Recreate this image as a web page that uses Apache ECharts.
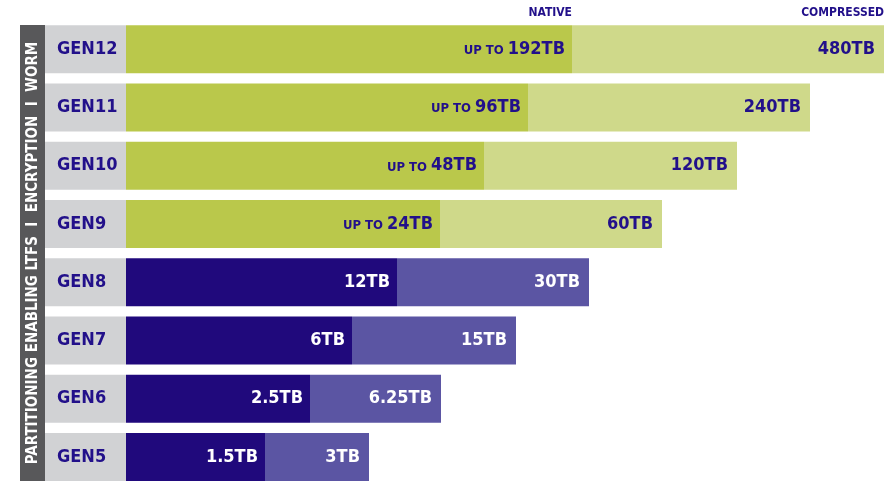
<!DOCTYPE html>
<html>
<head>
<meta charset="utf-8">
<script src="https://cdn.jsdelivr.net/npm/echarts@6/dist/echarts.min.js"></script>
<style>
  html, body { margin: 0; padding: 0; background: #fff; }
  #chart { width: 888px; height: 481px; }
</style>
</head>
<body>
<div id="chart"></div>
<script>
// bottom to top
const generations = ["GEN5", "GEN6", "GEN7", "GEN8", "GEN9", "GEN10", "GEN11", "GEN12"];
const nativeText = ["1.5TB", "2.5TB", "6TB", "12TB", "24TB", "48TB", "96TB", "192TB"];
const compressedText = ["3TB", "6.25TB", "15TB", "30TB", "60TB", "120TB", "240TB", "480TB"];
const upTo = [false, false, false, false, true, true, true, true];
// schematic bar lengths as drawn (not proportional to TB)
const nativeBar = [139, 184, 226, 271, 314, 358, 402, 446];
const compressedBar = [243, 315, 390, 463, 536, 611, 684, 758];

const FONT = '"Liberation Sans Narrow", "DejaVu Sans Condensed", "Roboto Condensed", sans-serif';
const NAVY = "#22108a";

const chart = echarts.init(document.getElementById("chart"));

const extra = compressedBar.map((v, i) => v - nativeBar[i]);

chart.setOption({
  animation: false,
  grid: { left: 126, right: 4, top: 20, bottom: -5, outerBoundsMode: "none" },
  xAxis: { type: "value", min: 0, max: 758, show: false },
  yAxis: {
    type: "category",
    data: generations,
    axisLine: { show: false },
    axisTick: { show: false },
    axisLabel: {
      margin: 81,
      align: "left",
      verticalAlign: "middle",
      width: 69,
      height: 48,
      lineHeight: 48,
      padding: [0, 0, 0, 12],
      backgroundColor: "#d1d2d4",
      color: NAVY,
      fontFamily: FONT,
      fontWeight: "bold",
      fontSize: 18
    }
  },
  graphic: [
    { type: "rect", shape: { x: 20, y: 25, width: 25, height: 456 }, style: { fill: "#58585a" } },
    {
      type: "text", x: 33, y: 253, rotation: Math.PI / 2,
      style: {
        text: "PARTITIONING ENABLING LTFS  I  ENCRYPTION  I  WORM",
        align: "center", verticalAlign: "middle", fill: "#fff",
        font: "bold 15px " + FONT
      }
    },
    { type: "text", x: 572, y: 13, style: { text: "NATIVE", align: "right", verticalAlign: "middle", fill: NAVY, font: "bold 12px " + FONT } },
    { type: "text", x: 884, y: 13, style: { text: "COMPRESSED", align: "right", verticalAlign: "middle", fill: NAVY, font: "bold 12px " + FONT } }
  ],
  series: [
    {
      name: "Native",
      type: "bar",
      stack: "cap",
      barWidth: 48,
      data: nativeBar.map((v, i) => ({
        value: v,
        itemStyle: { color: i >= 4 ? "#bac84b" : "#20097c" },
        label: { color: i >= 4 ? NAVY : "#fff" }
      })),
      label: {
        show: true,
        position: "insideRight",
        distance: 7,
        fontFamily: FONT,
        fontWeight: "bold",
        formatter: (p) => upTo[p.dataIndex]
          ? "{s|UP TO }{b|" + nativeText[p.dataIndex] + "}"
          : "{b|" + nativeText[p.dataIndex] + "}",
        rich: {
          s: { fontSize: 13, fontFamily: FONT, fontWeight: "bold", padding: [3, 0, 0, 0] },
          b: { fontSize: 18, fontFamily: FONT, fontWeight: "bold" }
        }
      }
    },
    {
      name: "Compressed",
      type: "bar",
      stack: "cap",
      barWidth: 48,
      data: extra.map((v, i) => ({
        value: v,
        itemStyle: { color: i >= 4 ? "#cfd98a" : "#5b55a3" },
        label: { color: i >= 4 ? NAVY : "#fff" }
      })),
      label: {
        show: true,
        position: "insideRight",
        distance: 9,
        fontFamily: FONT,
        fontWeight: "bold",
        fontSize: 18,
        formatter: (p) => compressedText[p.dataIndex]
      }
    }
  ]
});
</script>
</body>
</html>
